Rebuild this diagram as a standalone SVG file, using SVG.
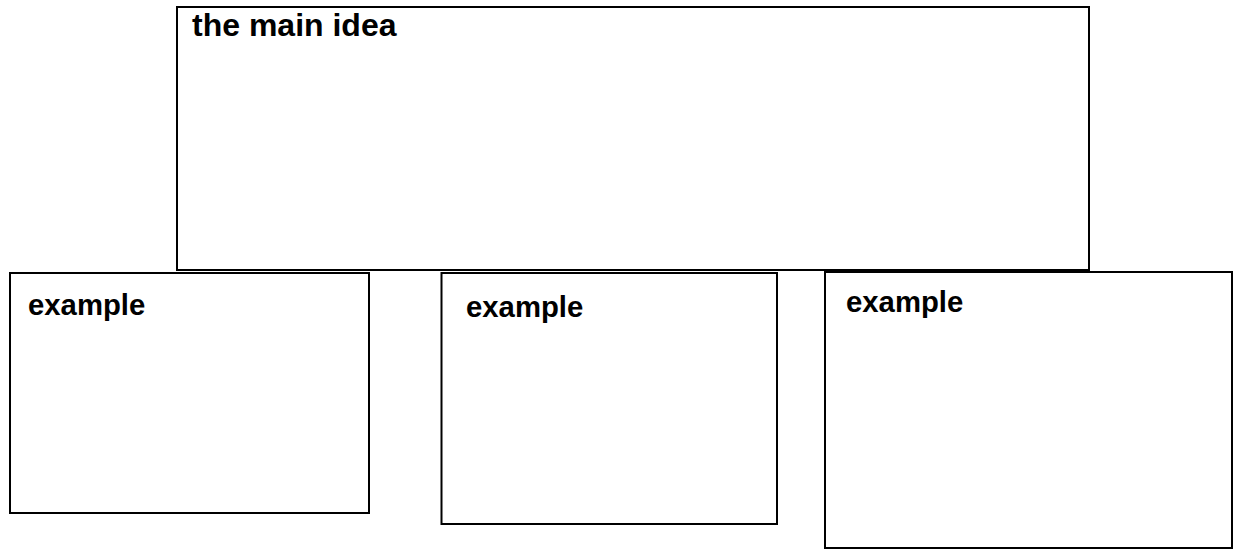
<svg xmlns="http://www.w3.org/2000/svg" width="1235" height="550" viewBox="0 0 1235 550">
  <style>
    .box { fill: #ffffff; stroke: #000000; stroke-width: 2; }
    .lbl { font-family: "Liberation Sans", Arial, sans-serif; font-weight: bold; fill: #000000; }
    .main { font-size: 32px; }
    .ex { font-size: 29.3px; }
  </style>
  <rect width="1235" height="550" fill="#ffffff"/>
  <g id="main-idea">
    <rect class="box" x="177" y="7" width="912" height="263"/>
    <text class="lbl main" x="192" y="36">the main idea</text>
  </g>
  <g id="example-1">
    <rect class="box" x="10" y="273" width="359" height="240"/>
    <text class="lbl ex" x="28" y="315">example</text>
  </g>
  <g id="example-2">
    <rect class="box" x="441.5" y="273" width="335.5" height="251"/>
    <text class="lbl ex" x="466" y="317">example</text>
  </g>
  <g id="example-3">
    <rect class="box" x="825" y="272" width="407" height="276"/>
    <text class="lbl ex" x="846" y="312">example</text>
  </g>
  <g id="connectors"></g>
</svg>
